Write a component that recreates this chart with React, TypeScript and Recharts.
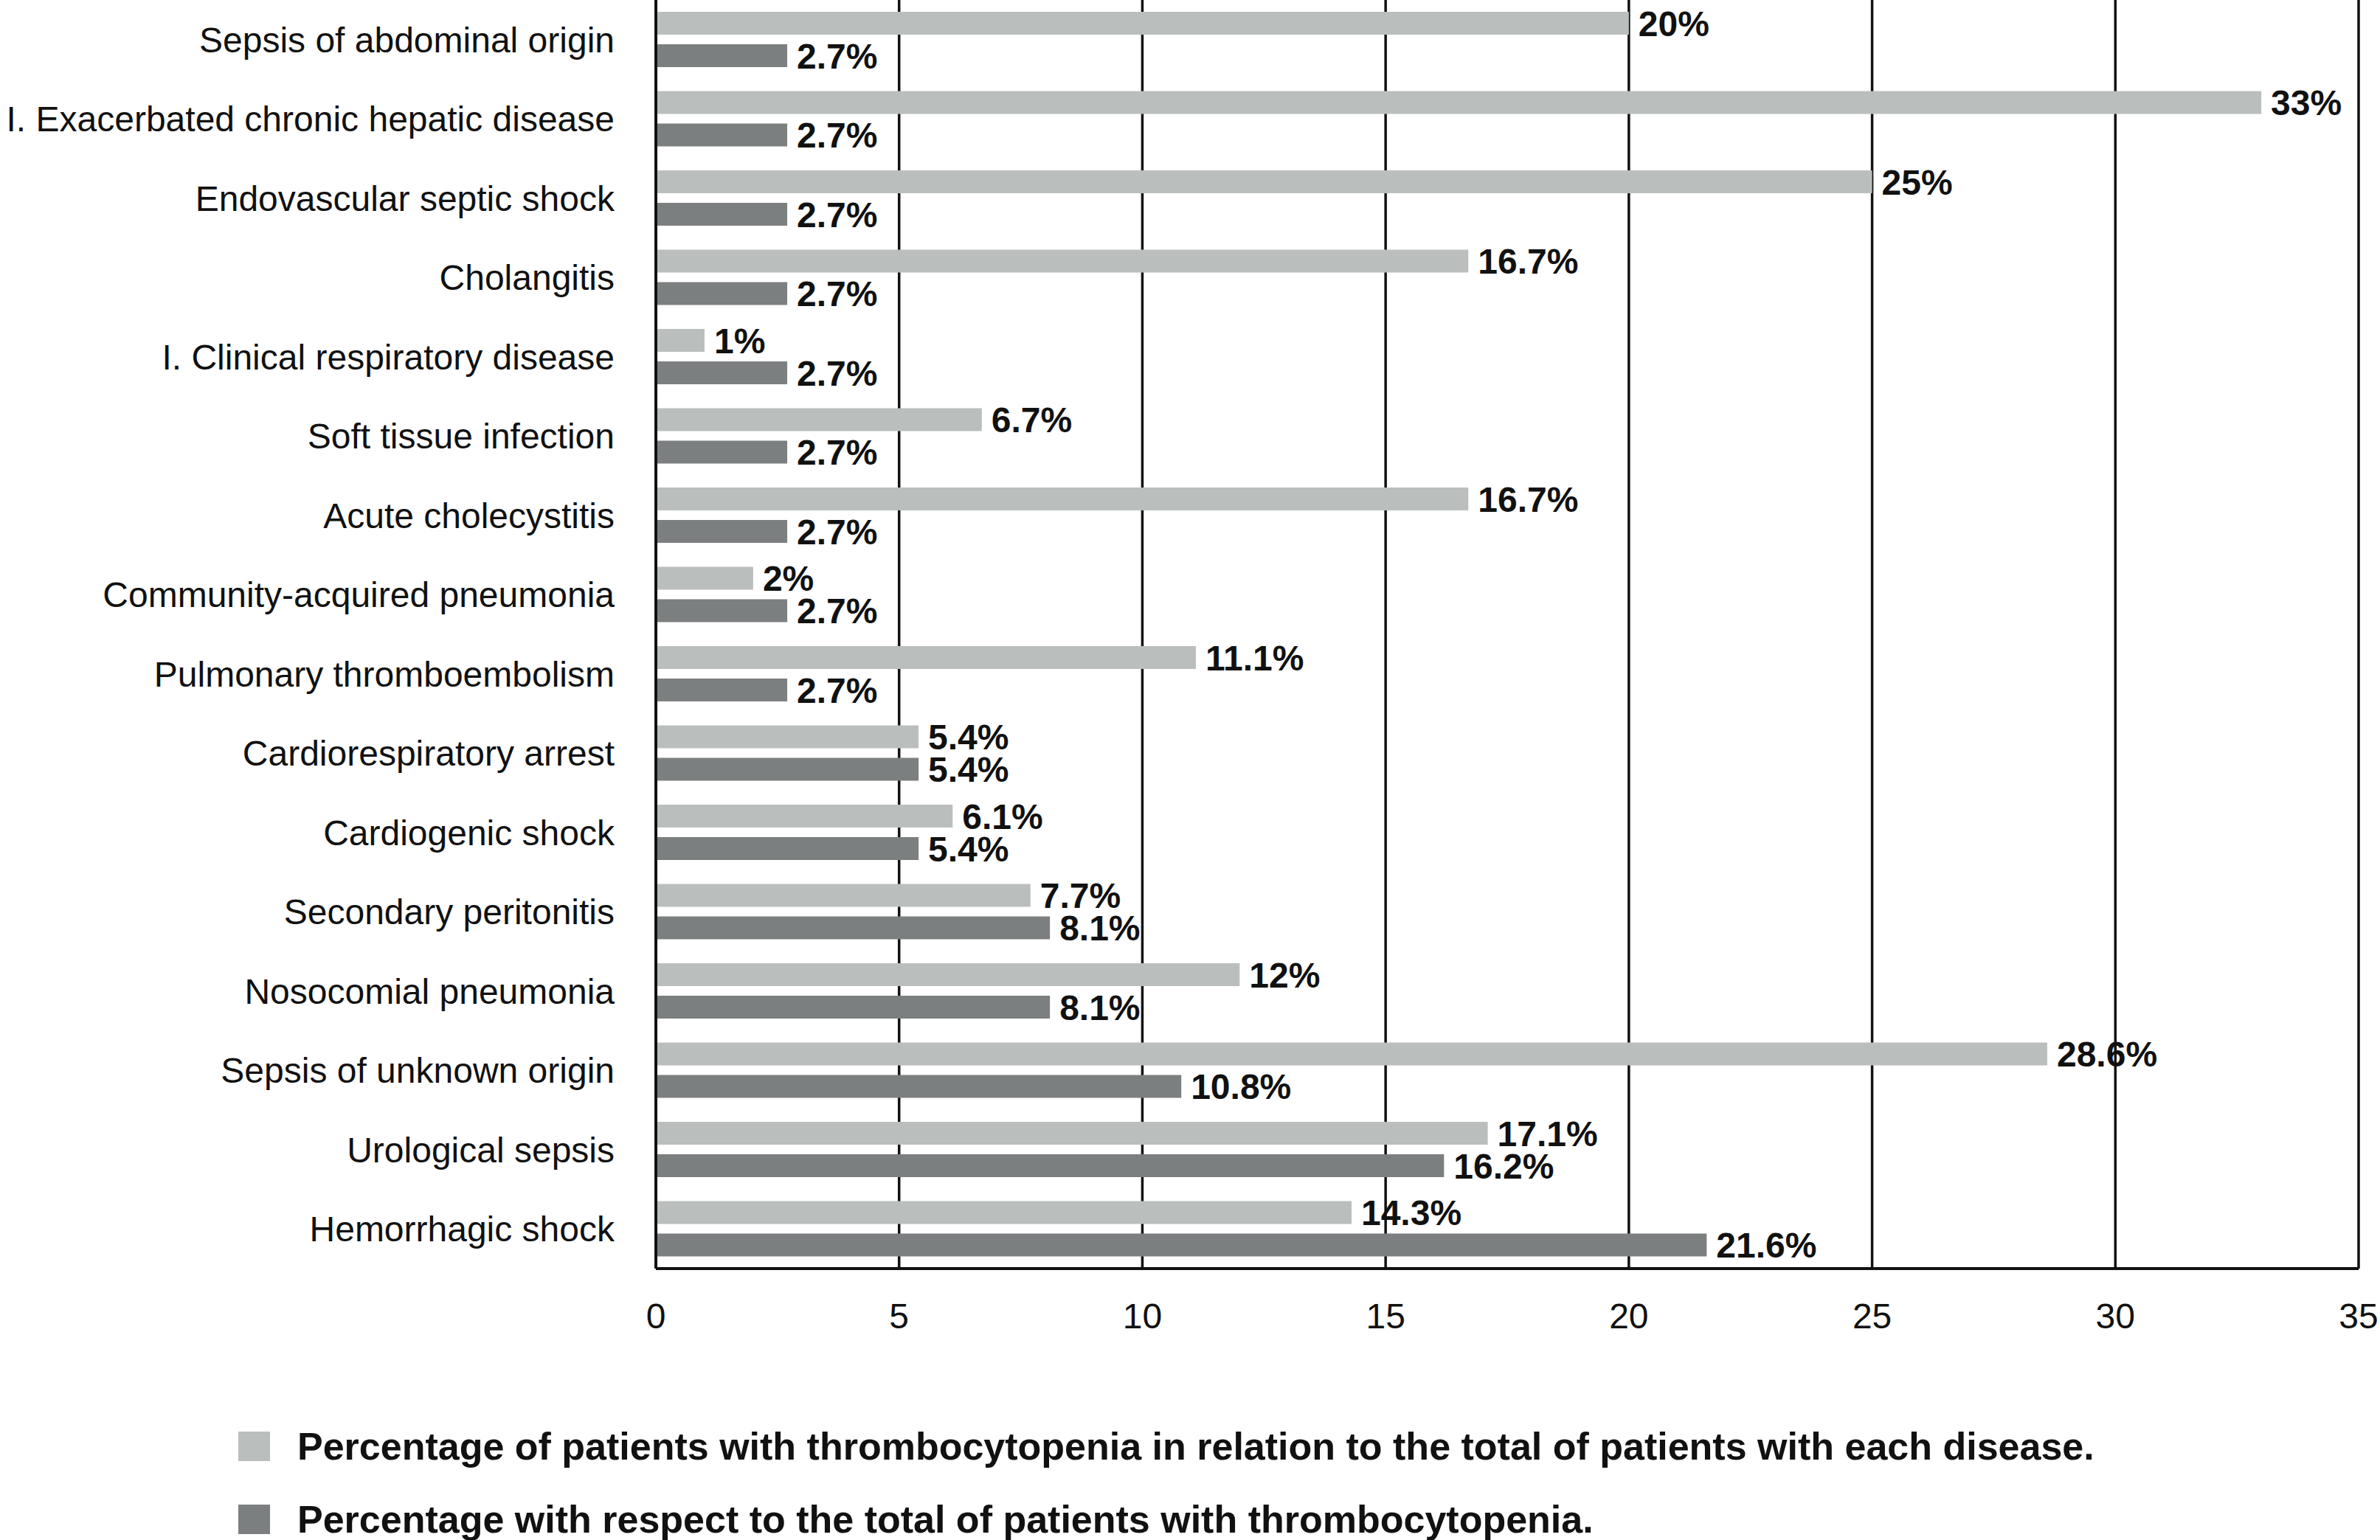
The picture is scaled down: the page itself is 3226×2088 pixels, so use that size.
import { BarChart, Bar, XAxis, YAxis, CartesianGrid, LabelList } from 'recharts'

// categories, top to bottom
const diseases = [
    'Sepsis of abdominal origin',
    'I. Exacerbated chronic hepatic disease',
    'Endovascular septic shock',
    'Cholangitis',
    'I. Clinical respiratory disease',
    'Soft tissue infection',
    'Acute cholecystitis',
    'Community-acquired pneumonia',
    'Pulmonary thromboembolism',
    'Cardiorespiratory arrest',
    'Cardiogenic shock',
    'Secondary peritonitis',
    'Nosocomial pneumonia',
    'Sepsis of unknown origin',
    'Urological sepsis',
    'Hemorrhagic shock',
]

// % of patients with thrombocytopenia within each disease
const pctOfDisease = [20, 33, 25, 16.7, 1, 6.7, 16.7, 2, 11.1, 5.4, 6.1, 7.7, 12, 28.6, 17.1, 14.3]

// % with respect to all thrombocytopenia patients
const pctOfThrombo = [2.7, 2.7, 2.7, 2.7, 2.7, 2.7, 2.7, 2.7, 2.7, 5.4, 5.4, 8.1, 8.1, 10.8, 16.2, 21.6]

const xTicks = [0, 5, 10, 15, 20, 25, 30, 35]

const seriesNames = [
    'Percentage of patients with thrombocytopenia in relation to the total of patients with each disease.',
    'Percentage with respect to the total of patients with thrombocytopenia.',
]

const data = diseases.map((name, i) => ({
    name,
    disease: pctOfDisease[i],
    thrombo: pctOfThrombo[i],
}))

const FONT = '"Liberation Sans", Arial, Helvetica, sans-serif'
const LIGHT = '#babfbe'
const DARK = '#7c7f7f'
const INK = '#111111'

const pct = (v: unknown) => `${v}%`

export default function App() {
    const colors = [LIGHT, DARK]

    return (
        <div style={{ position: 'absolute', left: 0, top: 0, width: 3226, height: 2088, background: '#fff', fontFamily: FONT }}>
            <BarChart
                width={3226}
                height={1840}
                data={data}
                layout="vertical"
                margin={{ top: 0, right: 29, bottom: 0, left: 0 }}
                barSize={31}
                barGap={13}
            >
                <CartesianGrid horizontal={false} stroke={INK} strokeWidth={3.5} />
                <XAxis
                    type="number"
                    domain={[0, 35]}
                    ticks={xTicks}
                    interval={0}
                    height={120}
                    tickLine={false}
                    tickSize={0}
                    tickMargin={47}
                    axisLine={{ stroke: INK, strokeWidth: 4 }}
                    tick={{ fontSize: 48, fill: INK, fontFamily: FONT }}
                />
                <YAxis
                    type="category"
                    dataKey="name"
                    width={889}
                    interval={0}
                    tickLine={false}
                    tickSize={0}
                    tickMargin={56}
                    axisLine={{ stroke: INK, strokeWidth: 4 }}
                    tick={{ fontSize: 48, fill: INK, fontFamily: FONT }}
                />
                <Bar dataKey="disease" name={seriesNames[0]} fill={LIGHT} isAnimationActive={false}>
                    <LabelList
                        dataKey="disease"
                        position="right"
                        offset={13}
                        formatter={pct}
                        style={{ fontSize: 48, fontWeight: 700, fill: INK, fontFamily: FONT }}
                    />
                </Bar>
                <Bar dataKey="thrombo" name={seriesNames[1]} fill={DARK} isAnimationActive={false}>
                    <LabelList
                        dataKey="thrombo"
                        position="right"
                        offset={13}
                        formatter={pct}
                        style={{ fontSize: 48, fontWeight: 700, fill: INK, fontFamily: FONT }}
                    />
                </Bar>
            </BarChart>

            {seriesNames.map((label, i) => (
                <div
                    key={label}
                    style={{
                        position: 'absolute',
                        left: 323,
                        top: i === 0 ? 1941 : 2040,
                        height: 40,
                        display: 'flex',
                        alignItems: 'center',
                        whiteSpace: 'nowrap',
                    }}
                >
                    <div style={{ width: 43, height: 40, background: colors[i], marginRight: 37 }} />
                    <span style={{ fontSize: 52, fontWeight: 700, color: INK, lineHeight: '40px' }}>{label}</span>
                </div>
            ))}
        </div>
    )
}
